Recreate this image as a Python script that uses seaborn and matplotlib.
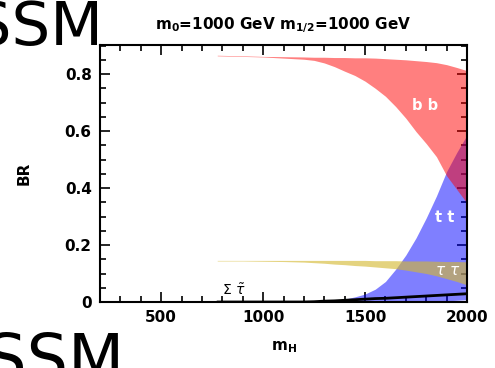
import matplotlib
matplotlib.use("Agg")
import matplotlib.pyplot as plt
from matplotlib.ticker import MultipleLocator
import seaborn as sns
import pandas as pd

# --- data ---
m_H = [775, 900, 1000, 1100, 1200, 1250, 1300, 1350, 1400, 1450, 1500, 1550,
       1600, 1650, 1700, 1750, 1800, 1850, 1900, 1950, 2000]
bb_upper = [0.866, 0.864, 0.862, 0.861, 0.860, 0.859, 0.859, 0.858, 0.858, 0.857,
            0.857, 0.856, 0.854, 0.852, 0.850, 0.847, 0.844, 0.840, 0.833, 0.823, 0.812]
bb_lower = [0.864, 0.862, 0.860, 0.856, 0.852, 0.848, 0.839, 0.826, 0.810, 0.795,
            0.775, 0.750, 0.722, 0.686, 0.645, 0.598, 0.556, 0.510, 0.443, 0.395, 0.347]
tt_upper = [0.0, 0.0, 0.0, 0.0, 0.0, 0.001, 0.002, 0.004, 0.010, 0.018,
            0.028, 0.045, 0.072, 0.115, 0.165, 0.225, 0.295, 0.372, 0.458, 0.525, 0.586]
tt_lower = [0.0, 0.0, 0.0, 0.0, 0.0, 0.0, 0.0, 0.0, 0.0, 0.0,
            0.0, 0.0, 0.0, 0.0, 0.0, 0.0, 0.0, 0.002, 0.004, 0.006, 0.008]
tautau_upper = [0.146, 0.146, 0.146, 0.146, 0.146, 0.146, 0.146, 0.146, 0.146, 0.146,
                0.146, 0.145, 0.145, 0.145, 0.144, 0.144, 0.144, 0.143, 0.142, 0.142, 0.141]
tautau_lower = [0.144, 0.144, 0.143, 0.142, 0.140, 0.138, 0.136, 0.133, 0.131, 0.128,
                0.126, 0.123, 0.120, 0.117, 0.112, 0.106, 0.100, 0.092, 0.082, 0.072, 0.060]
stau_sum = [0.0, 0.0, 0.0, 0.0, 0.0, 0.001, 0.003, 0.004, 0.006, 0.008,
            0.010, 0.012, 0.013, 0.015, 0.017, 0.019, 0.021, 0.023, 0.025, 0.027, 0.029]

x_ticks = [500, 1000, 1500, 2000]
y_ticks = [0, 0.2, 0.4, 0.6, 0.8]
y_tick_labels = ["0", "0.2", "0.4", "0.6", "0.8"]

df = pd.DataFrame({"m_H": m_H, "stau": stau_sum})

sns.set_style("ticks")
plt.rcParams["font.family"] = ["DejaVu Sans"]
plt.rcParams["mathtext.fontset"] = "dejavusans"
plt.rcParams["text.color"] = "black"
plt.rcParams["axes.labelcolor"] = "black"
plt.rcParams["xtick.color"] = "black"
plt.rcParams["ytick.color"] = "black"
plt.rcParams["axes.edgecolor"] = "black"

fig = plt.figure(figsize=(4.95, 3.68), dpi=100)
ax = fig.add_axes([100 / 495, 1 - 302 / 368, 367 / 495, 257 / 368])

ax.fill_between(m_H, tt_lower, tt_upper, color="#0000ff", alpha=0.5, linewidth=0)
ax.fill_between(m_H, tautau_lower, tautau_upper, color="#d4b830", alpha=0.62, linewidth=0)
ax.fill_between(m_H, bb_lower, bb_upper, color="#ff0000", alpha=0.5, linewidth=0)
sns.lineplot(data=df, x="m_H", y="stau", ax=ax, color="black", linewidth=2, legend=False)

ax.set_xlim(200, 2000)
ax.set_ylim(0, 0.902)
ax.set_xticks(x_ticks)
ax.set_yticks(y_ticks)
ax.set_yticklabels(y_tick_labels)
ax.xaxis.set_minor_locator(MultipleLocator(100))
ax.yaxis.set_minor_locator(MultipleLocator(0.05))
ax.tick_params(which="both", direction="in", top=True, right=True, width=1.2,
               colors="black")
ax.tick_params(which="major", length=7, labelsize=11, pad=6)
ax.tick_params(which="minor", length=4)
for lab in ax.get_xticklabels() + ax.get_yticklabels():
    lab.set_fontweight("bold")
for s in ax.spines.values():
    s.set_linewidth(1.5)
    s.set_color("black")

ax.set_xlabel(r"$\mathbf{m_H}$", fontsize=11, labelpad=10, color="black")
ax.set_ylabel("BR", fontsize=11, fontweight="bold", labelpad=24, color="black")
ax.set_title(r"$\mathbf{m_0}$=1000 GeV $\mathbf{m_{1/2}}$=1000 GeV",
             fontsize=11, fontweight="bold", pad=11, color="black")

ax.text(1794, 0.69, "b b", color="white", fontsize=10.5, fontweight="bold",
        ha="center", va="center")
ax.text(1892, 0.295, "t t", color="white", fontsize=10.5, fontweight="bold",
        ha="center", va="center")
ax.text(1905, 0.11, r"$\tau\ \tau$", color="white", fontsize=11,
        ha="center", va="center")
ax.text(855, 0.04, r"$\Sigma\ \tilde{\tau}$", color="black", fontsize=10,
        ha="center", va="center")

fig.text(103 / 495, 1 - 45 / 368, "MSSM", fontsize=44, ha="right", va="baseline",
         color="black")
fig.text(125 / 495, 1 - 381 / 368, "MSSM", fontsize=47, ha="right", va="baseline",
         color="black")

fig.savefig("out.png", dpi=100)
